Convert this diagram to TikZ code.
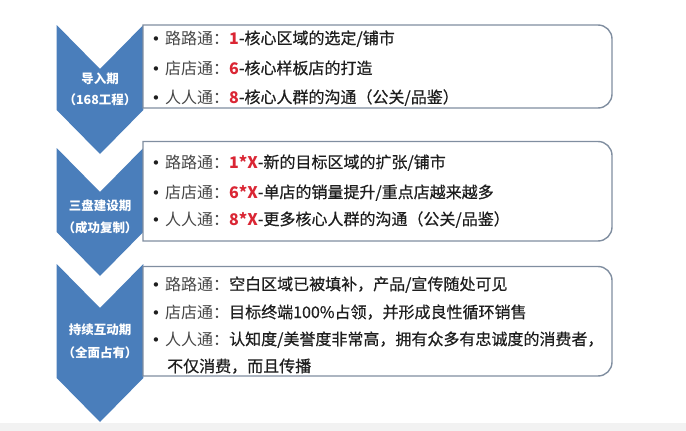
\documentclass[tikz,border=0pt]{standalone}
\usepackage{fontspec}
\newfontfamily\cjk{Noto Sans CJK SC}
\newfontfamily\cjkm{Noto Sans CJK SC}[FakeBold=0.5]
\newfontfamily\bulfont{DejaVu Sans}
\definecolor{chevblue}{RGB}{74,126,187}
\definecolor{boxgray}{RGB}{128,142,160}
\definecolor{numred}{RGB}{218,38,52}
\definecolor{labtxt}{RGB}{70,70,70}
\definecolor{bodytxt}{RGB}{30,30,30}
\newcommand\mylab[1]{{\cjk\color{labtxt}#1}}
\newcommand\mynum[1]{{\cjk\bfseries\color{numred}#1}}
\tikzset{
  chev/.style={fill=chevblue},
  boxframe/.style={draw=boxgray, line width=1.4pt, fill=white},
  txtline/.style={anchor=base west, inner sep=0, font=\cjkm\fontsize{16}{16}\selectfont, text=bodytxt},
  bul/.style={anchor=base, inner sep=0, font=\bulfont\fontsize{15}{15}\selectfont, text=bodytxt},
  chevtxt/.style={anchor=center, inner sep=0, font=\cjk\bfseries\fontsize{12.5}{12.5}\selectfont, text=white},
}
\begin{document}
\begin{tikzpicture}[x=1pt,y=1pt]
\useasboundingbox (0,0) rectangle (686,-431);
\fill[white] (0,0) rectangle (686,-431);
\fill[black!5] (0,-423) rectangle (686,-431);
% chevrons
\fill[chev] (56.7,-25) -- (100,-69) -- (143.3,-25) -- (143.3,-110) -- (100,-154) -- (56.7,-110) -- cycle;
\fill[chev] (56.7,-148) -- (100,-192) -- (143.3,-148) -- (143.3,-232) -- (100,-276) -- (56.7,-232) -- cycle;
\fill[chev] (56.7,-264) -- (100,-308) -- (143.3,-264) -- (143.3,-378) -- (100,-422) -- (56.7,-378) -- cycle;
\node[chevtxt] (c1a) at (100,-79) {导入期};
\node[chevtxt] (c1b) at (100,-100) {（168工程）};
\node[chevtxt] (c2a) at (100,-206) {三盘建设期};
\node[chevtxt] (c2b) at (100,-228) {（成功复制）};
\node[chevtxt] (c3a) at (100,-330) {持续互动期};
\node[chevtxt] (c3b) at (100,-353) {（全面占有）};
% boxes
\draw[boxframe] (143,-25) -- (598,-25) arc[start angle=90,end angle=0,radius=14] -- (612,-94) arc[start angle=0,end angle=-90,radius=14] -- (143,-108) -- cycle;
\draw[boxframe] (143,-141.5) -- (598,-141.5) arc[start angle=90,end angle=0,radius=14] -- (612,-227) arc[start angle=0,end angle=-90,radius=14] -- (143,-241) -- cycle;
\draw[boxframe] (143,-266.5) -- (598,-266.5) arc[start angle=90,end angle=0,radius=14] -- (612,-362) arc[start angle=0,end angle=-90,radius=14] -- (143,-376) -- cycle;
% box 1
\node[bul] (b11) at (156,-44) {•};
\node[txtline] (t11) at (165,-44) {\mylab{路路通：}\mynum{1}-核心区域的选定/铺市};
\node[bul] (b12) at (156,-74) {•};
\node[txtline] (t12) at (165,-74) {\mylab{店店通：}\mynum{6}-核心样板店的打造};
\node[bul] (b13) at (156,-103) {•};
\node[txtline] (t13) at (165,-103) {\mylab{人人通：}\mynum{8}-核心人群的沟通（公关/品鉴）};
% box 2
\node[bul] (b21) at (156,-168) {•};
\node[txtline] (t21) at (165,-168) {\mylab{路路通：}\mynum{1*X}-新的目标区域的扩张/铺市};
\node[bul] (b22) at (156,-198) {•};
\node[txtline] (t22) at (165,-198) {\mylab{店店通：}\mynum{6*X}-单店的销量提升/重点店越来越多};
\node[bul] (b23) at (156,-225) {•};
\node[txtline] (t23) at (165,-225) {\mylab{人人通：}\mynum{8*X}-更多核心人群的沟通（公关/品鉴）};
% box 3
\node[bul] (b31) at (156,-290) {•};
\node[txtline] (t31) at (165,-290) {\mylab{路路通：}空白区域已被填补，产品/宣传随处可见};
\node[bul] (b32) at (156,-318) {•};
\node[txtline] (t32) at (165,-318) {\mylab{店店通：}目标终端100\%占领，并形成良性循环销售};
\node[bul] (b33) at (156,-345) {•};
\node[txtline] (t33) at (165,-345) {\mylab{人人通：}认知度/美誉度非常高，拥有众多有忠诚度的消费者，};
\node[txtline] (t34) at (167,-372) {不仅消费，而且传播};
\end{tikzpicture}
\end{document}
